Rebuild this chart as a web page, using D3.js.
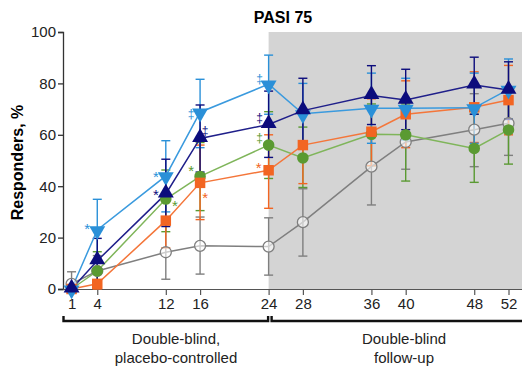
<!DOCTYPE html>
<html>
<head>
<meta charset="utf-8">
<script src="https://cdn.jsdelivr.net/npm/d3@7"></script>
<style>
  body { margin: 0; background: #fff; }
  text { font-family: "Liberation Sans", Arial, sans-serif; }
</style>
</head>
<body>
<div id="chart"></div>
<script>
// weeks on the x axis
const weeks = [1, 4, 12, 16, 24, 28, 36, 40, 48, 52]
const tickWeeks = [1, 4, 12, 16, 24, 28, 36, 40, 48, 52]
const yTicks = [0, 20, 40, 60, 80, 100]

// responders %, with lower / upper error limits
const placeboVal = [2, 7, 14.3, 16.8, 16.5, 26, 47.6, 57.2, 62, 64.5]
const placeboLo  = [0, 1, 3.8, 5.8, 5.4, 12.8, 32.7, 46.6, 47.6, 52]
const placeboHi  = [6.7, 13, 25, 28, 27.7, 39, 62, 68, 76, 77]

const orangeVal = [0, 2, 26.6, 41.3, 46.2, 56, 61.2, 68, 70.7, 73.5]
const orangeLo  = [0, 0, 16, 27, 31.4, 41, 48, 55, 57, 60]
const orangeHi  = [0, 3.6, 37, 56, 60, 70, 74, 81, 84.5, 87]

const greenVal = [0, 7, 35, 43.8, 56, 51, 60.2, 60, 54.7, 61.9]
const greenLo  = [0, 0.5, 22.3, 30.5, 43, 39.5, 48, 42, 41.5, 48.6]
const greenHi  = [0, 14.5, 46.3, 57, 69, 63, 72, 72, 68, 75]

const navyVal = [0, 11, 37, 58.6, 64, 69.4, 75.3, 73.5, 79.4, 77.4]
const navyLo  = [0, 3, 24.3, 45.5, 51.2, 57, 64, 62, 68, 66]
const navyHi  = [0, 19.7, 50.5, 71.6, 77, 82, 86.9, 85.5, 90.2, 88.4]

const blueVal = [0, 23, 44, 68.8, 79.7, 68.2, 70.3, 70.3, 70.5, 77.7]
const blueLo  = [0, 11, 30, 55, 68, 56, 56.7, 58, 56.7, 66]
const blueHi  = [0, 34.9, 57.7, 81.6, 91, 80, 84, 82, 84, 89.5]

// significance marks: week, value, text, colour key, dx
const sigWeek  = [4, 12, 12, 12, 16, 16, 16, 16, 24, 24, 24, 24]
const sigValue = [24, 44.5, 37.5, 33, 46.5, 36, 68.5, 62, 82, 67, 59, 48]
const sigText  = ["*", "*", "*", "*", "*", "*", "‡", "‡", "‡", "‡", "‡", "*"]
const sigKey   = ["blue", "blue", "navy", "green", "green", "orange", "blue", "navy", "blue", "navy", "green", "orange"]
const sigDx    = [-10, -10, -10, 9, -9, 5, -9, 5, -9, -9, -9, -10]

const colors = {
  placebo: "#7f7f7f", orange: "#f26522", green: "#5a9a32",
  navy: "#0c0c7c", blue: "#2a90d8"
}
const lineColors = {
  placebo: "#7f7f7f", orange: "#f4763a", green: "#7fb55a",
  navy: "#1f1f8a", blue: "#3a9ade"
}

const series = [
  { key: "placebo", v: placeboVal, lo: placeboLo, hi: placeboHi, shape: "open" },
  { key: "green", v: greenVal, lo: greenLo, hi: greenHi, shape: "circle" },
  { key: "orange", v: orangeVal, lo: orangeLo, hi: orangeHi, shape: "square" },
  { key: "blue", v: blueVal, lo: blueLo, hi: blueHi, shape: "down" },
  { key: "navy", v: navyVal, lo: navyLo, hi: navyHi, shape: "up" }
]

const width = 522, height = 368

const svg = d3.select("#chart").append("svg")
  .attr("width", width)
  .attr("height", height)

const xScale = d3.scaleLinear().domain([0, 52]).range([63, 508.5])
const yScale = d3.scaleLinear().domain([0, 100]).range([289, 32])

/* shaded follow-up area */
svg.append("rect")
  .attr("x", xScale(24))
  .attr("y", yScale(100))
  .attr("width", width - xScale(24))
  .attr("height", yScale(0) - yScale(100))
  .attr("fill", "#d4d4d4")

/* axes */
const yAxis = d3.axisLeft(yScale).tickValues(yTicks).tickSize(5).tickPadding(2)
const xAxis = d3.axisBottom(xScale).tickValues(tickWeeks).tickSize(6).tickPadding(3)

const gy = svg.append("g")
  .attr("transform", `translate(${xScale(0)},0)`)
  .call(yAxis)
gy.select(".domain").attr("stroke", "#333").attr("stroke-width", 1.3)
gy.selectAll(".tick line").attr("stroke", "#333").attr("stroke-width", 1.3)
gy.selectAll(".tick text").attr("font-size", 15).attr("fill", "#222")
  .attr("font-family", "'Liberation Sans', Arial, sans-serif")

const gx = svg.append("g")
  .attr("transform", `translate(0,${yScale(0)})`)
  .call(xAxis)
gx.select(".domain").attr("d", `M${xScale(0)},0.5H${width}`).attr("stroke", "#555").attr("stroke-width", 1.2)
gx.selectAll(".tick line").attr("stroke", "#555").attr("stroke-width", 1.2)
gx.selectAll(".tick text").attr("font-size", 15).attr("fill", "#222")
  .attr("font-family", "'Liberation Sans', Arial, sans-serif")

/* title + y label */
svg.append("text")
  .attr("x", 283).attr("y", 23)
  .attr("text-anchor", "middle")
  .attr("font-size", 16).attr("font-weight", "bold")
  .text("PASI 75")

svg.append("text")
  .attr("transform", `translate(23,${yScale(50) + 2}) rotate(-90)`)
  .attr("text-anchor", "middle")
  .attr("font-size", 16).attr("font-weight", "bold")
  .text("Responders, %")

/* error bars */
const capW = 4.5
series.forEach(s => {
  const g = svg.append("g")
  weeks.forEach((w, i) => {
    if (s.hi[i] - s.lo[i] < 0.5) return
    const x = xScale(w)
    g.append("line")
      .attr("x1", x).attr("x2", x)
      .attr("y1", yScale(s.lo[i])).attr("y2", yScale(s.hi[i]))
      .attr("stroke", colors[s.key]).attr("stroke-width", 1.4)
    ;[s.lo[i], s.hi[i]].forEach(v => {
      g.append("line")
        .attr("x1", x - capW).attr("x2", x + capW)
        .attr("y1", yScale(v)).attr("y2", yScale(v))
        .attr("stroke", colors[s.key]).attr("stroke-width", 1.4)
    })
  })
})

/* lines + markers */
const line = d3.line()
  .x((d, i) => xScale(weeks[i]))
  .y(d => yScale(d))

series.forEach(s => {
  svg.append("path")
    .datum(s.v)
    .attr("fill", "none")
    .attr("stroke", lineColors[s.key])
    .attr("stroke-width", 1.5)
    .attr("d", line)
})

const sym = {
  open: d3.symbol().type(d3.symbolCircle).size(95),
  circle: d3.symbol().type(d3.symbolCircle).size(105),
  square: d3.symbol().type(d3.symbolSquare).size(110),
  up: d3.symbol().type(d3.symbolTriangle).size(110)
}

series.forEach(s => {
  svg.append("g").selectAll("path")
    .data(s.v)
    .join("path")
    .attr("transform", (d, i) => {
      const x = xScale(weeks[i]), y = yScale(d)
      if (s.shape === "down") return `translate(${x},${y + 1}) rotate(180)`
      if (s.shape === "up") return `translate(${x},${y - 1})`
      return `translate(${x},${y})`
    })
    .attr("d", s.shape === "down" ? sym.up() : sym[s.shape]())
    .attr("fill", s.shape === "open" ? "#fff" : colors[s.key])
    .attr("fill-opacity", s.shape === "open" ? 0.6 : 1)
    .attr("stroke", s.shape === "open" ? colors.placebo : "none")
    .attr("stroke-width", 1.3)
})

/* significance symbols */
svg.append("g").selectAll("text")
  .data(sigWeek)
  .join("text")
  .attr("x", (d, i) => xScale(d) + sigDx[i])
  .attr("y", (d, i) => yScale(sigValue[i]) + (sigText[i] === "*" ? 7 : 5))
  .attr("text-anchor", "middle")
  .attr("font-size", (d, i) => sigText[i] === "*" ? 15 : 12)
  .attr("fill", (d, i) => colors[sigKey[i]])
  .text((d, i) => sigText[i])

/* phase brackets */
const brY = 321
const br = svg.append("g").attr("stroke", "#111").attr("fill", "none")
br.append("path")
  .attr("d", `M${xScale(0) + 0.5},${brY - 5}V${brY}H${xScale(24) - 0.5}V${brY - 5}`)
  .attr("stroke-width", 2.4)
br.append("path")
  .attr("d", `M${xScale(24) + 3},${brY - 5}V${brY}H${width}`)
  .attr("stroke-width", 2.4)

svg.append("text").attr("x", 176).attr("y", 344).attr("text-anchor", "middle")
  .attr("font-size", 15).attr("fill", "#222").text("Double-blind,")
svg.append("text").attr("x", 176).attr("y", 363).attr("text-anchor", "middle")
  .attr("font-size", 15).attr("fill", "#222").text("placebo-controlled")
svg.append("text").attr("x", 404).attr("y", 344).attr("text-anchor", "middle")
  .attr("font-size", 15).attr("fill", "#222").text("Double-blind")
svg.append("text").attr("x", 404).attr("y", 363).attr("text-anchor", "middle")
  .attr("font-size", 15).attr("fill", "#222").text("follow-up")
</script>
</body>
</html>
